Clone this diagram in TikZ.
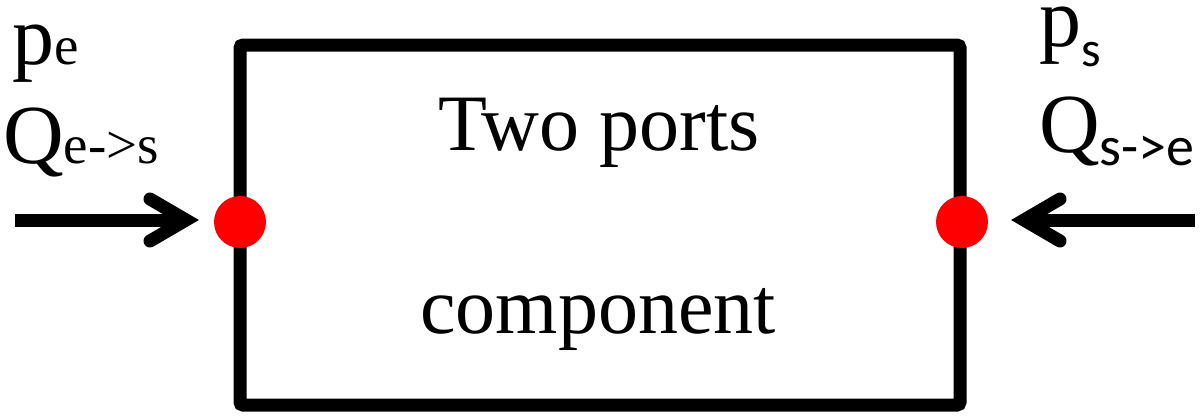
\documentclass[tikz,border=0pt]{standalone}
\usepackage{fontspec}
\newfontfamily\tms{Liberation Serif}
\newfontfamily\sbfont{Carlito}
\usetikzlibrary{calc}
\begin{document}
\begin{tikzpicture}[x=1pt,y=-1pt,
  boxstyle/.style={draw, line width=13pt, rounded corners=3pt, minimum width=720pt, minimum height=360pt, inner sep=0pt},
  port/.style={circle, fill=red, minimum size=52pt, inner sep=0pt},
  shaft/.style={line width=13pt},
  chev/.style={line width=13pt, line cap=round, line join=miter},
  big/.style={inner sep=0pt, anchor=base},
  lab/.style={anchor=base west, inner sep=0pt}]
\useasboundingbox (0,0) rectangle (1200,418);
\node[boxstyle] (box) at (600,225) {};
\node[big] (t1) at (599,150) {\tms\fontsize{80}{96}\selectfont Two ports};
\node[big] (t2) at (598,333) {\tms\fontsize{80}{96}\selectfont component};
\node[port] (dotL) at (240,222) {};
\node[port] (dotR) at (962,222) {};
% left arrow
\coordinate (inL) at (15,220);
\coordinate (vL) at (186,220);
\draw[shaft] (inL) -- (vL);
\draw[chev] ($(vL)+(-36,-21)$) -- (vL) -- ($(vL)+(-36,21)$);
% right arrow
\coordinate (inR) at (1195,220);
\coordinate (vR) at (1024,220);
\draw[shaft] (inR) -- (vR);
\draw[chev] ($(vR)+(36,-21)$) -- (vR) -- ($(vR)+(36,21)$);
% labels
\node[lab] (pe) at (12,64) {\tms\fontsize{84}{90}\selectfont p\fontsize{55}{60}\selectfont e};
\node[lab] (qe) at (3,163) {\tms\fontsize{84}{90}\selectfont Q\fontsize{55}{60}\selectfont e->s};
\node[lab] (ps) at (1039,46) {\tms\fontsize{84}{90}\selectfont p\raisebox{-20pt}{\sbfont\fontsize{50}{60}\selectfont s}};
\node[lab] (qs) at (1039,152) {\tms\fontsize{84}{90}\selectfont Q\raisebox{-13pt}{\sbfont\fontsize{56}{60}\selectfont s->e}};
\end{tikzpicture}
\end{document}
